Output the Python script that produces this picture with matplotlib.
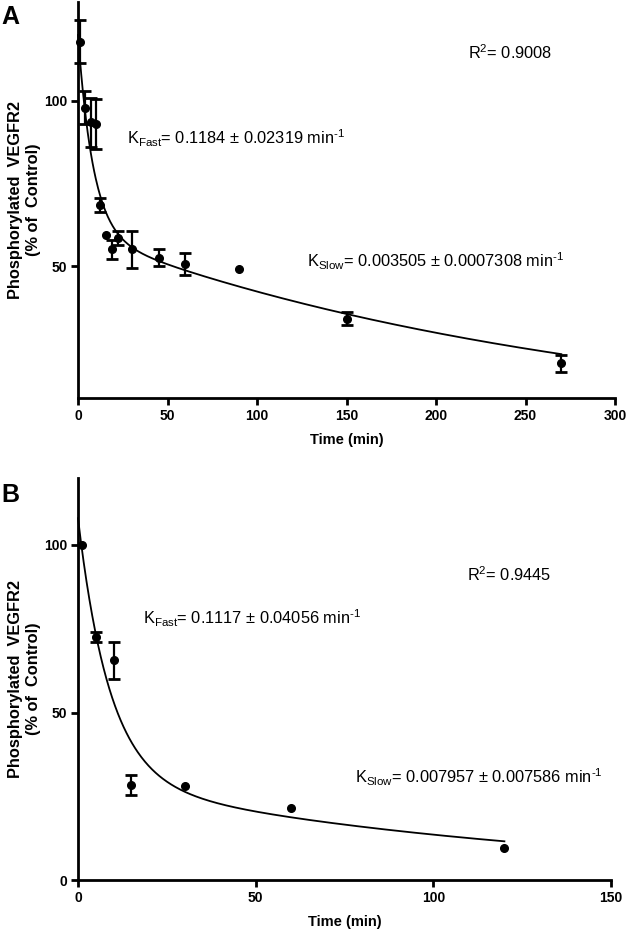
import numpy as np
import matplotlib
matplotlib.use("Agg")
import matplotlib.pyplot as plt

plt.rcParams['font.family'] = ['Liberation Sans', 'DejaVu Sans']
plt.rcParams['mathtext.fontset'] = 'custom'
plt.rcParams['mathtext.rm'] = 'Liberation Sans'
plt.rcParams['mathtext.it'] = 'Liberation Sans'

# ---------------- Data: panel A ----------------
a_time = [1, 4, 7, 10, 12.5, 15.5, 19, 22.5, 30, 45, 60, 90, 150, 270]
a_value = [118, 98, 93.5, 93, 68.5, 59.5, 55, 58.5, 55, 52.5, 50.5, 49, 34, 20.5]
a_err = [6.5, 5, 7.5, 7.5, 2, 0, 2.8, 2, 5.5, 2.5, 3.3, 0, 2, 2.5]
a_kfast = 0.1184
a_kslow = 0.003505
a_span_fast = 60
a_span_slow = 60
a_plateau = 0
a_fit_end = 270
a_r2 = "0.9008"
a_kfast_txt = "0.1184 ± 0.02319"
a_kslow_txt = "0.003505 ± 0.0007308"

# ---------------- Data: panel B ----------------
b_time = [1, 5, 10, 15, 30, 60, 120]
b_value = [100, 72.6, 65.6, 28.4, 28.1, 21.5, 9.5]
b_err = [0, 1.5, 5.5, 3, 0, 0, 0]
b_kfast = 0.1117
b_kslow = 0.007957
b_span_fast = 78
b_span_slow = 30
b_plateau = 0
b_fit_end = 120
b_r2 = "0.9445"
b_kfast_txt = "0.1117 ± 0.04056"
b_kslow_txt = "0.007957 ± 0.007586"

W, H = 628, 931
fig = plt.figure(figsize=(W / 100, H / 100), dpi=100)

def px_axes(l, t, r, b):
    return fig.add_axes([l / W, 1 - b / H, (r - l) / W, (b - t) / H])

axA = px_axes(78, 2, 615, 398)
axB = px_axes(78, 478, 611, 880)

def style(ax, xlim, ylim, xticks, yticks):
    ax.set_xlim(*xlim)
    ax.set_ylim(*ylim)
    ax.set_xticks(xticks)
    ax.set_yticks(yticks)
    for s in ['top', 'right']:
        ax.spines[s].set_visible(False)
    for s in ['left', 'bottom']:
        ax.spines[s].set_linewidth(2.0)
    ax.tick_params(direction='out', length=5, width=2.0, labelsize=10, pad=3)
    for lab in ax.get_xticklabels() + ax.get_yticklabels():
        lab.set_fontweight('bold')
    ax.set_xlabel("Time (min)", fontsize=10.5, fontweight='bold', labelpad=7)
    ax.set_ylabel("Phosphorylated  VEGFR2\n(% of  Control)", fontsize=11.8,
                  fontweight='bold', labelpad=2, linespacing=1.25)

def draw(ax, t, v, e, kf, ks, sf, ss, p, tend):
    tt = np.linspace(0, tend, 600)
    yy = p + sf * np.exp(-kf * tt) + ss * np.exp(-ks * tt)
    ax.plot(tt, yy, color='black', lw=1.3, zorder=2, clip_on=False)
    t = np.asarray(t, float)
    v = np.asarray(v, float)
    e = np.asarray(e, float)
    m = e > 0
    ax.errorbar(t[m], v[m], yerr=e[m], fmt='none', ecolor='black', elinewidth=1.6,
                capsize=4.5, capthick=2.0, zorder=3, clip_on=False)
    ax.plot(t, v, 'o', color='black', ms=5.5, zorder=4, clip_on=False)

style(axA, (0, 300), (10, 130), [0, 50, 100, 150, 200, 250, 300], [50, 100])
draw(axA, a_time, a_value, a_err, a_kfast, a_kslow, a_span_fast, a_span_slow,
     a_plateau, a_fit_end)

style(axB, (0, 150), (0, 120), [0, 50, 100, 150], [0, 50, 100])
draw(axB, b_time, b_value, b_err, b_kfast, b_kslow, b_span_fast, b_span_slow,
     b_plateau, b_fit_end)

fs = 11.8
sup = " min$^{\\mathrm{\u20101}}$"

axA.text(218, 112.6, r"R$^{2}$= " + a_r2, fontsize=fs)
axA.text(27.4, 86.9, r"K$_{\mathrm{Fast}}$= " + a_kfast_txt + sup, fontsize=fs)
axA.text(127.8, 49.6, r"K$_{\mathrm{Slow}}$= " + a_kslow_txt + sup, fontsize=fs)

axB.text(109.6, 89.2, r"R$^{2}$= " + b_r2, fontsize=fs)
axB.text(18.4, 76.3, r"K$_{\mathrm{Fast}}$= " + b_kfast_txt + sup, fontsize=fs)
axB.text(77.9, 29.0, r"K$_{\mathrm{Slow}}$= " + b_kslow_txt + sup, fontsize=fs,
         clip_on=False)

fig.text(1 / W, 1 - 24 / H, "A", fontsize=18, fontweight='bold')
fig.text(1 / W, 1 - 502 / H, "B", fontsize=18, fontweight='bold')

fig.savefig("out.png", dpi=100)
